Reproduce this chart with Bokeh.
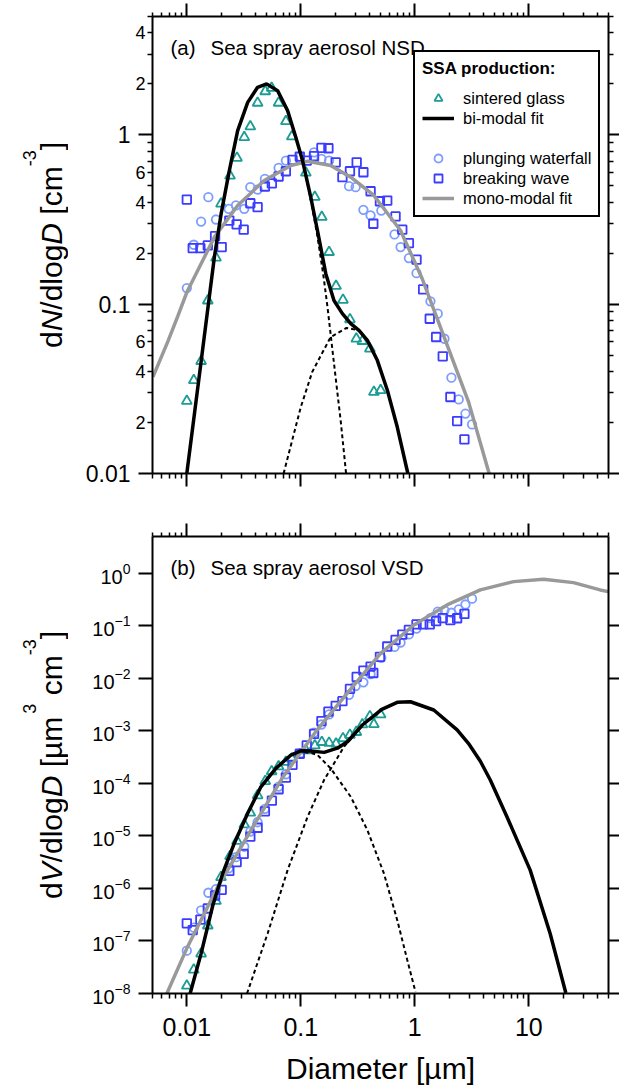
import math
from bokeh.plotting import figure
from bokeh.models import (Range1d, LogAxis, FixedTicker, CustomJSTickFormatter,
                          LogTickFormatter, Label, Legend, LegendItem)
from bokeh.layouts import column, row
from bokeh.embed import file_html
from bokeh.resources import INLINE

FONT = "Liberation Sans"
TEAL = "#1c9c95"
LBLUE = "#7d9dff"
BLUE = "#3c3cff"
GRAY = "#999999"

# ---------------- data ----------------
# sintered glass
sg_d = [0.0100, 0.01151, 0.01334, 0.01528, 0.01803, 0.01995, 0.02393, 0.02754, 0.03192, 0.03606,
        0.04178, 0.04875, 0.05546, 0.06383, 0.07396, 0.08337, 0.1107, 0.1327, 0.1528, 0.1770,
        0.2037, 0.2344, 0.2698, 0.3069, 0.3467, 0.4036, 0.4375, 0.5012]
sg_n = [0.0268, 0.0355, 0.0461, 0.105, 0.188, 0.392, 0.573, 0.731, 0.968, 1.119,
        1.545, 1.807, 1.892, 1.545, 1.202, 0.977, 0.597, 0.429, 0.327, 0.203,
        0.128, 0.106, 0.0813, 0.0625, 0.0605, 0.0546, 0.0303, 0.0310]
sg_v = [1.40e-8, 2.83e-8, 5.73e-8, 1.96e-7, 5.77e-7, 1.63e-6, 4.11e-6, 8.0e-6, 1.65e-5, 2.75e-5,
        5.90e-5, 1.10e-4, 1.69e-4, 2.10e-4, 2.55e-4, 2.96e-4, 4.24e-4, 5.25e-4, 6.10e-4, 5.89e-4,
        5.66e-4, 7.18e-4, 8.36e-4, 9.46e-4, 1.32e-3, 1.88e-3, 1.33e-3, 2.04e-3]

# plunging waterfall
pw_d = [0.0100, 0.01151, 0.01334, 0.01545, 0.01803, 0.02328, 0.02698, 0.03192, 0.03606, 0.04178,
        0.04842, 0.06383, 0.07396, 0.09863, 0.1306, 0.1517, 0.1770, 0.2649, 0.3027, 0.3540,
        0.4093, 0.5082, 0.6637, 0.7499, 0.8872, 1.035, 1.371, 1.589, 1.820, 2.094,
        2.427, 2.780, 3.177]
pw_n = [0.1245, 0.2244, 0.3076, 0.4285, 0.3162, 0.3656, 0.3828, 0.3656, 0.4909, 0.4753,
        0.5495, 0.6383, 0.7047, 0.7447, 0.7889, 0.7211, 0.7047, 0.4977, 0.4909, 0.3606,
        0.3342, 0.3573, 0.2582, 0.2173, 0.1871, 0.1524, 0.1040, 0.0879, 0.0625, 0.0368,
        0.0274, 0.0226, 0.0195]
pw_v = [6.52e-8, 1.79e-7, 3.82e-7, 8.28e-7, 9.70e-7, 2.42e-6, 3.94e-6, 6.22e-6, 1.21e-5, 1.82e-5,
        3.27e-5, 8.69e-5, 1.49e-4, 3.74e-4, 9.20e-4, 1.32e-3, 2.05e-3, 4.84e-3, 7.13e-3, 8.38e-3,
        1.20e-2, 2.45e-2, 3.95e-2, 4.80e-2, 6.84e-2, 8.85e-2, 0.140, 0.185, 0.197, 0.177,
        0.205, 0.254, 0.328]

# breaking wave
bw_d = [0.0100, 0.01127, 0.01315, 0.01528, 0.01770, 0.02023, 0.02360, 0.02735, 0.03155, 0.03606,
        0.04178, 0.04842, 0.05572, 0.06383, 0.07396, 0.08453, 0.09795, 0.1127, 0.1306, 0.1517,
        0.1746, 0.2023, 0.2317, 0.2698, 0.3090, 0.3540, 0.4093, 0.4325, 0.4943, 0.5728,
        0.6776, 0.7762, 0.8872, 1.035, 1.183, 1.352, 1.538, 1.758, 2.051, 2.350, 2.723]
bw_n = [0.415, 0.2143, 0.2143, 0.2223, 0.2523, 0.2173, 0.3119, 0.2958, 0.2754, 0.3945,
        0.3741, 0.4955, 0.5176, 0.5675, 0.6095, 0.7112, 0.7447, 0.7047, 0.7482, 0.8375,
        0.8337, 0.6887, 0.5623, 0.6095, 0.6887, 0.6012, 0.4645, 0.2985, 0.4055, 0.4093,
        0.3296, 0.2754, 0.2291, 0.1832, 0.1222, 0.0820, 0.0640, 0.0492, 0.0283, 0.0204, 0.0159]
bw_v = [2.17e-7, 1.61e-7, 2.55e-7, 4.15e-7, 7.33e-7, 9.42e-7, 2.15e-6, 3.17e-6, 4.53e-6, 9.68e-6,
        1.43e-5, 2.94e-5, 4.69e-5, 7.73e-5, 1.29e-4, 2.25e-4, 3.66e-4, 5.28e-4, 8.73e-4, 1.53e-3,
        2.32e-3, 2.99e-3, 3.66e-3, 6.27e-3, 1.06e-2, 1.40e-2, 1.67e-2, 1.26e-2, 2.56e-2, 4.03e-2,
        5.37e-2, 6.75e-2, 8.38e-2, 0.106, 0.106, 0.106, 0.122, 0.140, 0.128, 0.139, 0.168]

# NSD fits
nsd_bi_d = [0.0100, 0.01334, 0.01746, 0.01995, 0.02360, 0.02793, 0.03420, 0.04178, 0.05012, 0.06252,
            0.07656, 0.09036, 0.1035, 0.1222, 0.1400, 0.1656, 0.1954, 0.2317, 0.2742, 0.3236,
            0.3837, 0.4688, 0.5741, 0.7015, 0.8690]
nsd_bi_n = [0.0100, 0.0457, 0.1905, 0.3388, 0.6152, 1.059, 1.556, 1.910, 2.000, 1.824,
            1.390, 0.968, 0.7047, 0.4285, 0.2723, 0.1514, 0.1052, 0.0879, 0.0767, 0.0700,
            0.0611, 0.0466, 0.0310, 0.0188, 0.0100]
nsd_m1_d = [0.09036, 0.1035, 0.1222, 0.1400, 0.1585, 0.1714, 0.1954, 0.2239, 0.2495]
nsd_m1_n = [0.968, 0.7047, 0.4169, 0.2512, 0.1445, 0.0962, 0.0447, 0.0204, 0.0100]
nsd_m2_d = [0.07063, 0.1000, 0.1259, 0.1828, 0.2512, 0.3236, 0.3837]
nsd_m2_n = [0.0100, 0.0247, 0.0398, 0.0640, 0.0724, 0.0700, 0.0611]
nsd_mono_d = [0.005047, 0.006823, 0.008337, 0.0100, 0.01746, 0.02793, 0.04775, 0.08185, 0.1146,
              0.1828, 0.2742, 0.4375, 0.7499, 1.161, 1.854, 2.965, 4.487]
nsd_mono_n = [0.0372, 0.0603, 0.0851, 0.1175, 0.2489, 0.3828, 0.5370, 0.6592, 0.6982,
              0.6592, 0.5623, 0.4385, 0.2723, 0.1413, 0.0611, 0.0264, 0.0100]

# VSD fits
vsd_bi_d = [0.01069, 0.01334, 0.01687, 0.02065, 0.02606, 0.03420, 0.04467, 0.06039, 0.08185, 0.1000,
            0.1222, 0.1600, 0.2094, 0.2564, 0.3467, 0.5129, 0.7015, 0.9162, 1.466, 2.350,
            2.951, 3.758, 4.592, 6.427, 10.28, 15.38, 21.13]
vsd_bi_v = [1.0e-8, 5.75e-8, 4.68e-7, 1.93e-6, 7.19e-6, 2.69e-5, 8.61e-5, 1.93e-4, 3.46e-4, 4.17e-4,
            4.12e-4, 3.89e-4, 4.68e-4, 6.19e-4, 1.29e-3, 2.57e-3, 3.49e-3, 3.58e-3, 2.49e-3, 1.04e-3,
            5.78e-4, 2.63e-4, 1.16e-4, 2.32e-5, 2.23e-6, 1.39e-7, 1.02e-8]
vsd_m1_d = [0.08185, 0.1000, 0.1222, 0.1400, 0.1828, 0.2742, 0.3837, 0.5358, 0.7015, 0.8590, 1.014]
vsd_m1_v = [3.46e-4, 3.98e-4, 3.80e-4, 3.46e-4, 1.93e-4, 5.56e-5, 1.29e-5, 1.93e-6, 2.49e-7, 4.32e-8, 1.07e-8]
vsd_m2_d = [0.03373, 0.05117, 0.07656, 0.1146, 0.1600, 0.2393, 0.3467]
vsd_m2_v = [1.0e-8, 1.39e-7, 2.23e-6, 2.31e-5, 1.16e-4, 4.98e-4, 1.26e-3]
vsd_mono_d = [0.006683, 0.0100, 0.01866, 0.03656, 0.06918, 0.1352, 0.2655, 0.5012, 0.9795, 1.919,
              3.758, 7.345, 13.46, 24.66, 42.17, 49.77]
vsd_mono_v = [1.0e-8, 7.24e-8, 1.07e-6, 1.29e-5, 1.29e-4, 9.64e-4, 5.75e-3, 2.99e-2, 0.1035, 0.249,
              0.481, 0.692, 0.769, 0.662, 0.481, 0.447]

# ticks / labels
X_MAJOR = [0.01, 0.1, 1, 10]
X_MINOR = [round(k * 10.0 ** e, 6) for e in range(-3, 2) for k in range(2, 10)
           if 0.005 <= k * 10.0 ** e <= 50]
N_MAJOR = [0.01, 0.1, 1]
N_MINOR = [round(k * 10.0 ** e, 6) for e in range(-2, 1) for k in range(2, 10) if k * 10.0 ** e <= 5]
N_SUB_TICKS = [0.02, 0.04, 0.06, 0.2, 0.4, 0.6, 2, 4]
N_SUB_LABELS = ["2", "4", "6", "2", "4", "6", "2", "4"]
V_MAJOR = [1e-8, 1e-7, 1e-6, 1e-5, 1e-4, 1e-3, 1e-2, 1e-1, 1.0]

LAB_W = 68          # width of the strip holding the rotated y titles
MAIN_W = 619 - LAB_W
FRAME_H = 457

# approximate advance widths (em) for Liberation Sans
EM = {"d": .556, "N": .722, "/": .278, "l": .222, "o": .556, "g": .556, "D": .722, " ": .278,
      "[": .278, "c": .5, "m": .833, "-": .333, "3": .556, "]": .278, "V": .667, "µ": .576}


def tw(s, size):
    return sum(EM.get(ch, .556) for ch in s) * size


def make_fig(h, ylo, yhi, btop, bbot):
    p = figure(width=MAIN_W, height=h, x_axis_type="log", y_axis_type="log",
               x_axis_location=None, y_axis_location=None,
               x_range=Range1d(0.005, 50), y_range=Range1d(ylo, yhi),
               toolbar_location=None, output_backend="svg",
               min_border_left=152 - LAB_W, min_border_right=11, min_border_top=btop,
               min_border_bottom=bbot)
    p.outline_line_color = None
    p.background_fill_color = "white"
    p.border_fill_color = "white"
    p.grid.visible = False
    return p


def blank_fmt():
    return CustomJSTickFormatter(code='return "";')


def num_fmt():
    return CustomJSTickFormatter(code='return String(Number(tick.toPrecision(6)));')


def sub_fmt():
    return CustomJSTickFormatter(args=dict(sub_ticks=N_SUB_TICKS, sub_labels=N_SUB_LABELS), code="""
        for (let i = 0; i < sub_ticks.length; i++) {
            if (Math.abs(sub_ticks[i] - tick) < 1e-6 * sub_ticks[i]) { return sub_labels[i]; }
        }
        return "";
    """)


def add_axis(p, side, major, minor, major_out, minor_out, formatter=None,
             size="0px", standoff=0, line=True, major_w=2, minor_w=1.5):
    ax = LogAxis(ticker=FixedTicker(ticks=major, minor_ticks=minor),
                 formatter=formatter if formatter is not None else blank_fmt())
    ax.axis_line_width = 2
    ax.axis_line_color = "black" if line else None
    ax.major_tick_line_width = major_w
    ax.minor_tick_line_width = minor_w
    if major_out == 0:
        ax.major_tick_line_color = None
    ax.major_tick_in = 0
    ax.minor_tick_in = 0
    ax.major_tick_out = major_out
    ax.minor_tick_out = minor_out
    ax.major_label_standoff = standoff
    ax.major_label_text_font = FONT
    ax.major_label_text_font_size = size
    ax.major_label_text_color = "black"
    ax.axis_label = None
    p.add_layout(ax, side)
    return ax


def label_strip(h, pieces, x0):
    """Narrow figure left of a panel that carries its rotated, mixed-style y title.
    In a row its frame lines up with the panel's frame, so y is measured from that frame's bottom."""
    s = figure(width=LAB_W, height=h, x_axis_location=None, y_axis_location=None,
               x_range=Range1d(0, 1), y_range=Range1d(0, 1), toolbar_location=None,
               output_backend="svg", min_border=0)
    s.outline_line_color = None
    s.grid.visible = False
    s.border_fill_color = "white"
    s.background_fill_color = "white"
    total = sum(adv for _, _, _, _, adv in pieces)
    y = FRAME_H / 2 - total / 2
    for text, style, size, dx, adv in pieces:
        s.add_layout(Label(x=x0 + dx, y=y, x_units="screen", y_units="screen", text=text,
                           angle=math.pi / 2, text_font=FONT, text_font_size=f"{size}px",
                           text_font_style=style, text_align="left",
                           text_baseline="alphabetic", text_color="black"))
        y += adv
    return s


def panel_title(p, tag, text):
    for x, t in ((18, tag), (58, text)):
        p.add_layout(Label(x=x, y=426, x_units="screen", y_units="screen", text=t,
                           text_font=FONT, text_font_size="20.5px", text_baseline="alphabetic",
                           text_color="black"))


FS, SUP = 30, 18

# ---------------- top panel (NSD) ----------------
p1 = make_fig(500, 0.01, 5.0, 16, 27)
# inner left axis: short ticks with the small "2 4 6" labels; decade ticks drawn as the long ones
add_axis(p1, "left", N_MINOR, N_MAJOR, 5, 14, formatter=sub_fmt(), size="18px", standoff=-7,
         major_w=1.5, minor_w=2)
# outer left axis: decade labels only
add_axis(p1, "left", N_MAJOR, [], 0, 0, formatter=num_fmt(), size="23px", standoff=2, line=False)
add_axis(p1, "right", N_MAJOR, N_MINOR, 11, 5)
add_axis(p1, "above", X_MAJOR, X_MINOR, 13, 4)
add_axis(p1, "below", X_MAJOR, X_MINOR, 13, 5)

r_sg = p1.scatter(sg_d, sg_n, marker="triangle", size=10, line_color=TEAL, line_width=1.8,
                  fill_color=None)
r_pw = p1.scatter(pw_d, pw_n, marker="circle", size=8.5, line_color=LBLUE, line_width=1.8,
                  fill_color=None)
r_bw = p1.scatter(bw_d, bw_n, marker="square", size=8.5, line_color=BLUE, line_width=1.8,
                  fill_color=None)
p1.line(nsd_m1_d, nsd_m1_n, line_color="black", line_width=2, line_dash="4 3")
p1.line(nsd_m2_d, nsd_m2_n, line_color="black", line_width=2, line_dash="4 3")
r_mono = p1.line(nsd_mono_d, nsd_mono_n, line_color=GRAY, line_width=3.5)
r_bi = p1.line(nsd_bi_d, nsd_bi_n, line_color="black", line_width=3.5)
r_blank = p1.line([], [], line_alpha=0)

legend = Legend(items=[LegendItem(label="sintered glass", renderers=[r_sg]),
                       LegendItem(label="bi-modal fit", renderers=[r_bi]),
                       LegendItem(label=" ", renderers=[r_blank]),
                       LegendItem(label="plunging waterfall", renderers=[r_pw]),
                       LegendItem(label="breaking wave", renderers=[r_bw]),
                       LegendItem(label="mono-modal fit", renderers=[r_mono])],
                location=(261, 256), title="SSA production:",
                title_text_font=FONT, title_text_font_style="bold", title_text_font_size="17px",
                title_text_color="black", title_standoff=9,
                label_text_font=FONT, label_text_font_size="16.5px", label_text_color="black",
                label_standoff=9, label_height=20, glyph_width=32, glyph_height=20,
                spacing=0, padding=7, margin=0, border_line_color="black",
                border_line_width=2, border_line_alpha=1,
                background_fill_color="white", background_fill_alpha=1)
p1.add_layout(legend)
panel_title(p1, "(a)", "Sea spray aerosol NSD")

s1 = label_strip(500,
                 [("d", "normal", FS, 0, tw("d", FS)),
                  ("N", "italic", FS, 0, tw("N", FS)),
                  ("/dlog", "normal", FS, 0, tw("/dlog", FS)),
                  ("D", "italic", FS, 0, tw("D ", FS)),
                  ("[cm", "normal", FS, 0, tw("[cm", FS)),
                  ("-3", "normal", SUP, -22, tw("-3", SUP)),
                  ("]", "normal", FS, 0, tw("]", FS))], 51)

# ---------------- bottom panel (VSD) ----------------
p2 = make_fig(587, 1e-8, 5.0, 36, 94)
add_axis(p2, "left", V_MAJOR, [], 14, 0, formatter=LogTickFormatter(), size="20px", standoff=8)
add_axis(p2, "right", V_MAJOR, [], 11, 0)
add_axis(p2, "above", X_MAJOR, X_MINOR, 13, 4)
xb = add_axis(p2, "below", X_MAJOR, X_MINOR, 13, 5, formatter=num_fmt(), size="25px", standoff=11)
xb.axis_label = "Diameter [µm]"
xb.axis_label_text_font = FONT
xb.axis_label_text_font_size = "30px"
xb.axis_label_text_font_style = "normal"
xb.axis_label_text_color = "black"
xb.axis_label_standoff = 13

p2.scatter(sg_d, sg_v, marker="triangle", size=10, line_color=TEAL, line_width=1.8, fill_color=None)
p2.scatter(pw_d, pw_v, marker="circle", size=8.5, line_color=LBLUE, line_width=1.8, fill_color=None)
p2.scatter(bw_d, bw_v, marker="square", size=8.5, line_color=BLUE, line_width=1.8, fill_color=None)
p2.line(vsd_m1_d, vsd_m1_v, line_color="black", line_width=2, line_dash="4 3")
p2.line(vsd_m2_d, vsd_m2_v, line_color="black", line_width=2, line_dash="4 3")
p2.line(vsd_mono_d, vsd_mono_v, line_color=GRAY, line_width=3.5)
p2.line(vsd_bi_d, vsd_bi_v, line_color="black", line_width=3.5)
panel_title(p2, "(b)", "Sea spray aerosol VSD")

s2 = label_strip(587,
                 [("d", "normal", FS, 0, tw("d", FS)),
                  ("V", "italic", FS, 0, tw("V", FS)),
                  ("/dlog", "normal", FS, 0, tw("/dlog", FS)),
                  ("D", "italic", FS, 0, tw("D ", FS)),
                  ("[µm", "normal", FS, 0, tw("[µm", FS) + 3),
                  ("3", "normal", SUP, -22, tw("3", SUP) + tw(" ", FS)),
                  ("cm", "normal", FS, 0, tw("cm", FS)),
                  ("-3", "normal", SUP, -22, tw("-3", SUP)),
                  ("]", "normal", FS, 0, tw("]", FS))], 51)

layout = column(row(s1, p1, spacing=0), row(s2, p2, spacing=0), spacing=0)
open("out.html", "w").write(file_html(layout, INLINE))
